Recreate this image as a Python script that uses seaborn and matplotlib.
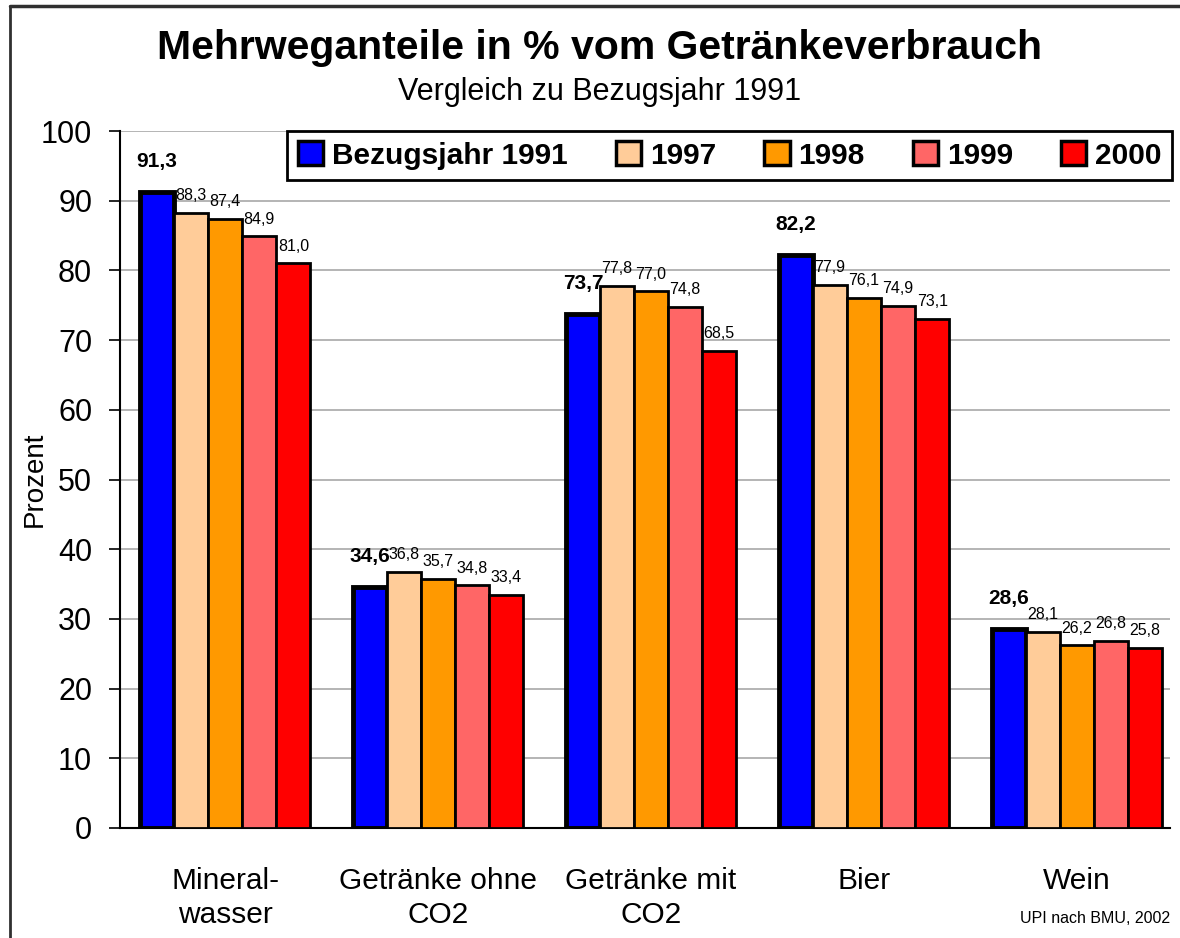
"""Mehrweganteile in % vom Getraenkeverbrauch - grouped bar chart."""

import matplotlib.pyplot as plt
import matplotlib.patches as mpatches
import pandas as pd
import seaborn as sns

# Data
categories = ["Mineral-\nwasser", "Getränke ohne\nCO2", "Getränke mit\nCO2", "Bier", "Wein"]
years = ["Bezugsjahr 1991", "1997", "1998", "1999", "2000"]
values_1991 = [91.3, 34.6, 73.7, 82.2, 28.6]
values_1997 = [88.3, 36.8, 77.8, 77.9, 28.1]
values_1998 = [87.4, 35.7, 77.0, 76.1, 26.2]
values_1999 = [84.9, 34.8, 74.8, 74.9, 26.8]
values_2000 = [81.0, 33.4, 68.5, 73.1, 25.8]
colors = ["#0000FF", "#FFCC99", "#FF9900", "#FF6666", "#FF0000"]
y_ticks = list(range(0, 101, 10))


def setup_style():
    sns.set_style("white")
    plt.rcParams["font.family"] = ["Liberation Sans", "DejaVu Sans"]
    plt.rcParams["text.color"] = "black"
    plt.rcParams["axes.labelcolor"] = "black"
    plt.rcParams["xtick.color"] = "black"
    plt.rcParams["ytick.color"] = "black"


setup_style()

series = [values_1991, values_1997, values_1998, values_1999, values_2000]
rows = []
for year, vals in zip(years, series):
    for cat, v in zip(categories, vals):
        rows.append({"Getränk": cat, "Jahr": year, "Prozent": v})
df = pd.DataFrame(rows)

fig = plt.figure(figsize=(11.8, 9.38), dpi=100)
ax = fig.add_axes([0.1017, 0.1173, 0.8898, 0.743])

sns.barplot(
    data=df,
    x="Getränk",
    y="Prozent",
    hue="Jahr",
    order=categories,
    hue_order=years,
    palette=colors,
    edgecolor="black",
    linewidth=2,
    width=0.8,
    saturation=1,
    legend=False,
    ax=ax,
    zorder=3,
)

# Thicker outline on the reference year bars
for bar in ax.containers[0]:
    bar.set_linewidth(3.5)

# Value labels with German decimal comma
for i, cont in enumerate(ax.containers):
    labels = [f"{v:.1f}".replace(".", ",") for v in series[i]]
    if i == 0:
        ax.bar_label(cont, labels=labels, padding=15, fontsize=15, fontweight="bold")
    else:
        ax.bar_label(cont, labels=labels, padding=7, fontsize=11.5)

ax.set_ylim(0, 100)
ax.set_xlim(-0.494, 4.437)
ax.set_yticks(y_ticks)
ax.yaxis.grid(True, color="#a8a8a8", linewidth=1.2, zorder=0)
ax.set_axisbelow(True)
for side in ["top", "right"]:
    ax.spines[side].set_visible(False)
ax.spines["left"].set_color("black")
ax.spines["bottom"].set_color("black")
ax.spines["left"].set_linewidth(1.5)
ax.spines["bottom"].set_linewidth(1.5)

ax.tick_params(axis="y", which="major", direction="out", length=8, width=1.2,
               labelsize=22, pad=12, left=True)
ax.tick_params(axis="x", length=0, labelsize=21.5, pad=28)
for lab in ax.get_xticklabels():
    lab.set_linespacing(1.3)
ax.set_xlabel("")
ax.set_ylabel("Prozent", fontsize=20)
ax.yaxis.set_label_coords(-0.069, 0.5)

# Legend
handles = [mpatches.Patch(facecolor=c, edgecolor="black", linewidth=2.5) for c in colors]
leg = ax.legend(
    handles,
    years,
    loc="upper right",
    bbox_to_anchor=(1.002, 1.0),
    ncol=5,
    frameon=True,
    fancybox=False,
    borderaxespad=0.0,
    handlelength=0.85,
    handleheight=0.85,
    handletextpad=0.3,
    columnspacing=1.6,
    borderpad=0.35,
    prop={"size": 21.5, "weight": "bold"},
)
leg.get_frame().set_edgecolor("black")
leg.get_frame().set_linewidth(2)
leg.get_frame().set_alpha(1)

# Titles
fig.text(0.508, 0.949, "Mehrweganteile in % vom Getränkeverbrauch",
         ha="center", va="center", fontsize=29.5, fontweight="bold")
fig.text(0.508, 0.902, "Vergleich zu Bezugsjahr 1991",
         ha="center", va="center", fontsize=22)
fig.text(0.992, 0.021, "UPI nach BMU, 2002", ha="right", va="center", fontsize=11.5)

# Frame lines at top and left edge
fig.add_artist(plt.Line2D([0.0085, 1.0], [0.9935, 0.9935], color="#303030", linewidth=2.5,
                          transform=fig.transFigure))
fig.add_artist(plt.Line2D([0.0085, 0.0085], [0.0, 0.9935], color="#303030", linewidth=2,
                          transform=fig.transFigure))

plt.savefig("out.png", dpi=100, facecolor="white")
plt.close()
